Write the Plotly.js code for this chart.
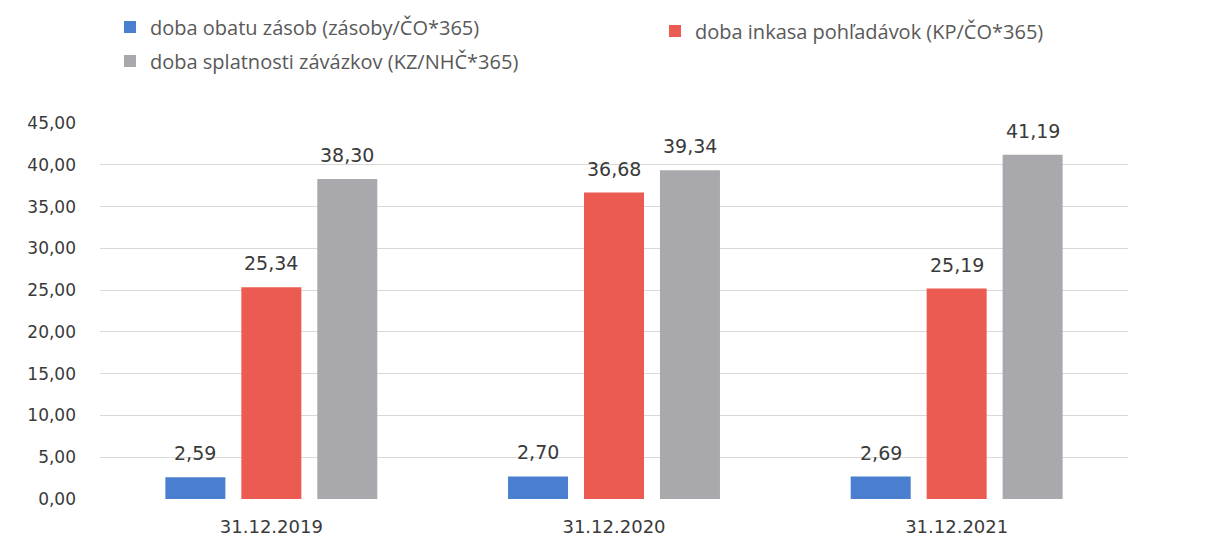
<!DOCTYPE html>
<html>
<head>
<meta charset="utf-8">
<script src="https://cdn.plot.ly/plotly-3.0.1.min.js"></script>
<style>
  html, body { margin: 0; padding: 0; background: #fff; }
  #chart { width: 1209px; height: 543px; }
</style>
</head>
<body>
<div id="chart"></div>
<script>
const categories = ['31.12.2019', '31.12.2020', '31.12.2021'];
const seriesNames = [
    'doba obatu zásob (zásoby/ČO*365)',
    'doba inkasa pohľadávok (KP/ČO*365)',
    'doba splatnosti závázkov (KZ/NHČ*365)'
];
const obratZasob = [2.59, 2.70, 2.69];
const inkasoPohladavok = [25.34, 36.68, 25.19];
const splatnostZavazkov = [38.30, 39.34, 41.19];
const yTickValues = [0, 5, 10, 15, 20, 25, 30, 35, 40, 45];

const colors = ['#4a7fcf', '#ec5b51', '#a9a8ad'];
const series = [obratZasob, inkasoPohladavok, splatnostZavazkov];
const legendIds = ['legend', 'legend2', 'legend3'];

const W = 1209, H = 543;
const margin = {l: 100, r: 81, t: 123, b: 44};
const bargap = 0.335;
const plotW = W - margin.l - margin.r;
// width of one bar slot inside a group, used to put the value labels over each bar
const slot = plotW / categories.length * (1 - bargap) / series.length;

const traces = series.map((vals, k) => ({
    x: categories,
    y: vals,
    type: 'bar',
    name: seriesNames[k],
    legend: legendIds[k],
    marker: {color: colors[k]},
    hoverinfo: 'none'
}));

// value labels above the bars
const annotations = [];
series.forEach((vals, k) => {
    vals.forEach((v, j) => {
        annotations.push({
            x: categories[j],
            y: v,
            xref: 'x',
            yref: 'y',
            text: v.toFixed(2).replace('.', ','),
            showarrow: false,
            yanchor: 'bottom',
            xshift: (k - 1) * slot,
            yshift: 11,
            font: {family: 'DejaVu Sans', size: 19, color: '#3a3a3a'}
        });
    });
});

const legendFont = {family: 'Open Sans', size: 20, color: '#595959'};
const legendBase = {
    orientation: 'h',
    xref: 'container',
    yref: 'container',
    xanchor: 'left',
    yanchor: 'middle',
    bgcolor: 'rgba(0,0,0,0)',
    font: legendFont
};

const layout = {
    width: W,
    height: H,
    margin: margin,
    paper_bgcolor: '#fff',
    plot_bgcolor: '#fff',
    separators: ', ',
    barmode: 'group',
    bargap: bargap,
    bargroupgap: 0.21,
    showlegend: true,
    legend: Object.assign({}, legendBase, {x: 110 / W, y: 1 - 27 / H}),
    legend2: Object.assign({}, legendBase, {x: 655 / W, y: 1 - 31 / H}),
    legend3: Object.assign({}, legendBase, {x: 110 / W, y: 1 - 61 / H}),
    xaxis: {
        type: 'category',
        showgrid: false,
        zeroline: false,
        showline: false,
        ticks: '',
        ticklabelstandoff: 15,
        tickfont: {family: 'DejaVu Sans', size: 18, color: '#3a3a3a'}
    },
    yaxis: {
        range: [0, 45],
        tickvals: yTickValues,
        tickformat: '.2f',
        showgrid: true,
        gridcolor: '#d9d9d9',
        gridwidth: 1,
        zeroline: false,
        showline: false,
        ticks: '',
        ticklabelstandoff: 23,
        tickfont: {family: 'DejaVu Sans', size: 17, color: '#3a3a3a'}
    },
    annotations: annotations
};

Plotly.newPlot('chart', traces, layout, {staticPlot: true, displayModeBar: false});
</script>
</body>
</html>
